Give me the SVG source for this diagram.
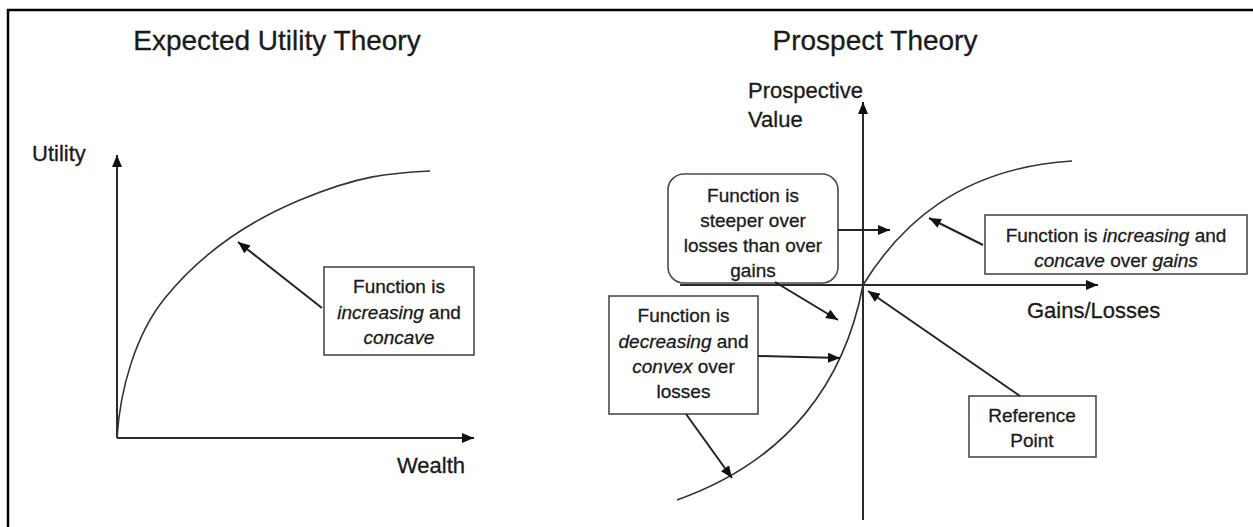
<svg xmlns="http://www.w3.org/2000/svg" width="1253" height="527" viewBox="0 0 1253 527">
<style>
text{font-family:"Liberation Sans",Arial,sans-serif;fill:#1a1a1a;stroke:#1a1a1a;stroke-width:0.3}
.title{font-size:28px}
.lbl{font-size:22px}
.bt{font-size:19px;text-anchor:middle}
.it{font-style:italic}
.box{fill:#fff;stroke:#4a4a4a;stroke-width:1.6}
.axis{fill:none;stroke:#2a2a2a;stroke-width:2}
.curve{fill:none;stroke:#333;stroke-width:1.6}
.conn{fill:none;stroke:#222;stroke-width:2}
</style>
<defs>
<marker id="ah" markerUnits="userSpaceOnUse" markerWidth="12" markerHeight="10" refX="12" refY="5" orient="auto">
<path d="M0,0 L12,5 L0,10 z" fill="#111"/>
</marker>
</defs>
<rect width="1253" height="527" fill="#fff"/>
<path d="M8,527 L8,10 L1253,10" fill="none" stroke="#000" stroke-width="2.5"/>

<g id="left-chart">
<text class="title" x="277" y="50" text-anchor="middle">Expected Utility Theory</text>
<line class="axis" x1="117" y1="438" x2="117" y2="155" marker-end="url(#ah)"/>
<line class="axis" x1="117" y1="438" x2="474" y2="438" marker-end="url(#ah)"/>
<text class="lbl" x="32" y="161">Utility</text>
<text class="lbl" x="397" y="473">Wealth</text>
<path class="curve" d="M117,438 C120,390 135,335 165,298 S240,225 300,200 S390,173 430,171"/>
</g>

<g id="right-chart">
<text class="title" x="875" y="50" text-anchor="middle">Prospect Theory</text>
<text class="lbl" x="748" y="98">Prospective</text>
<text class="lbl" x="748" y="127">Value</text>
<text class="lbl" x="1027" y="318">Gains/Losses</text>
</g>

<g id="node-steeper">
<rect class="box" x="668" y="174" width="170" height="109" rx="16"/>
<text class="bt" x="753" y="202">Function is</text>
<text class="bt" x="753" y="227">steeper over</text>
<text class="bt" x="753" y="252">losses than over</text>
<text class="bt" x="753" y="277">gains</text>
</g>

<g id="prospect-axes">
<line class="axis" x1="863" y1="520" x2="863" y2="102" marker-end="url(#ah)"/>
<line class="axis" x1="680" y1="285" x2="1098" y2="285" marker-end="url(#ah)"/>
<path class="curve" d="M863,285 C900,225 960,168 1072,161"/>
<path class="curve" d="M863,285 C845,380 790,460 677,500"/>
</g>

<g id="node-eut">
<rect class="box" x="324" y="267" width="150" height="88"/>
<text class="bt" x="399" y="293">Function is</text>
<text class="bt" x="399" y="319"><tspan class="it">increasing</tspan> and</text>
<text class="bt" x="399" y="344"><tspan class="it">concave</tspan></text>
</g>

<g id="node-losses">
<rect class="box" x="609" y="296" width="149" height="118"/>
<text class="bt" x="683.5" y="322">Function is</text>
<text class="bt" x="683.5" y="348"><tspan class="it">decreasing</tspan> and</text>
<text class="bt" x="683.5" y="373"><tspan class="it">convex</tspan> over</text>
<text class="bt" x="683.5" y="398">losses</text>
</g>

<g id="node-gains">
<rect class="box" x="985" y="215" width="262" height="59"/>
<text class="bt" x="1116" y="242">Function is <tspan class="it">increasing</tspan> and</text>
<text class="bt" x="1116" y="267"><tspan class="it">concave</tspan> over <tspan class="it">gains</tspan></text>
</g>

<g id="node-ref">
<rect class="box" x="969" y="396" width="127" height="61"/>
<text class="bt" x="1032" y="422">Reference</text>
<text class="bt" x="1032" y="447">Point</text>
</g>

<g id="connectors">
<line class="conn" x1="322" y1="308" x2="238" y2="242" marker-end="url(#ah)"/>
<line class="conn" x1="838" y1="230" x2="890" y2="230" marker-end="url(#ah)"/>
<line class="conn" x1="775" y1="282" x2="838" y2="320" marker-end="url(#ah)"/>
<line class="conn" x1="758" y1="356" x2="840" y2="358" marker-end="url(#ah)"/>
<line class="conn" x1="686" y1="414" x2="732" y2="478" marker-end="url(#ah)"/>
<line class="conn" x1="983" y1="245" x2="929" y2="218" marker-end="url(#ah)"/>
<line class="conn" x1="1020" y1="396" x2="868" y2="291" marker-end="url(#ah)"/>
</g>
</svg>
